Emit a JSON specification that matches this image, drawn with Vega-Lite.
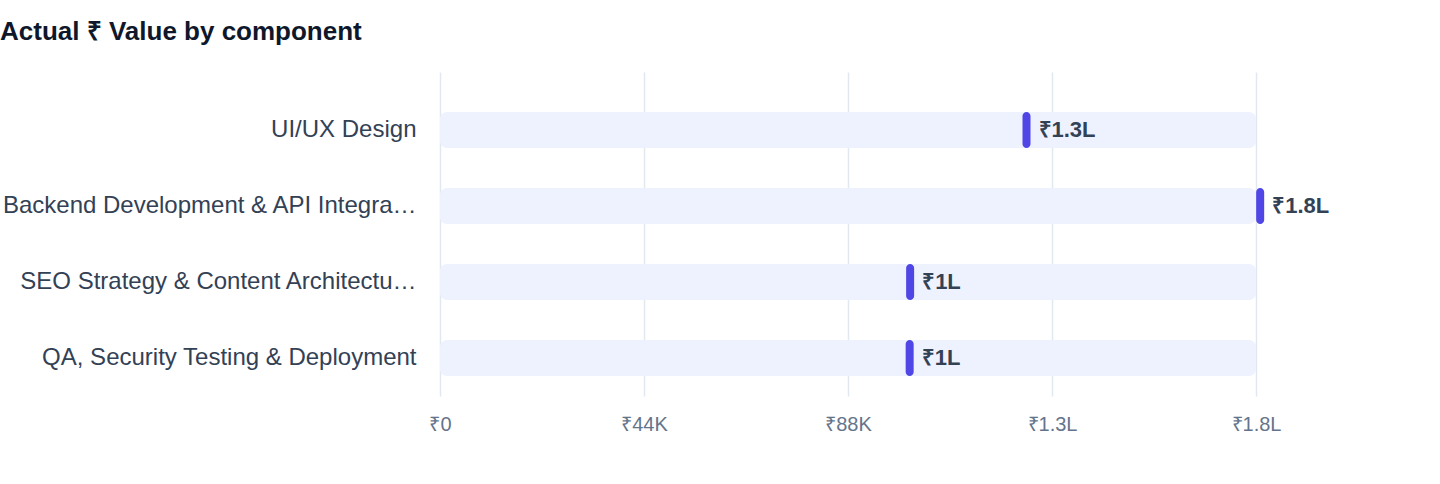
{
  "$schema": "https://vega.github.io/schema/vega-lite/v6.json",
  "width": 816,
  "height": 324,
  "autosize": {"type": "none"},
  "padding": {"left": 440, "top": 72, "right": 184, "bottom": 88},
  "title": {
    "text": "Actual ₹ Value by component",
    "anchor": "start",
    "frame": "group",
    "dx": -440,
    "offset": 27,
    "fontSize": 26,
    "fontWeight": "bold",
    "color": "#0F172A",
    "font": "Liberation Sans"
  },
  "data": {
    "values": [
      {"component": "UI/UX Design", "value": 126500, "label": "₹1.3L"},
      {"component": "Backend Development & API Integration", "value": 176900, "label": "₹1.8L"},
      {"component": "SEO Strategy & Content Architecture", "value": 101400, "label": "₹1L"},
      {"component": "QA, Security Testing & Deployment", "value": 101300, "label": "₹1L"}
    ]
  },
  "encoding": {
    "y": {
      "field": "component",
      "type": "nominal",
      "sort": null,
      "title": null,
      "scale": {"paddingInner": 0, "paddingOuter": 0.1316, "align": 1},
      "axis": {
        "domain": false,
        "ticks": false,
        "grid": false,
        "labelPadding": 24,
        "labelFontSize": 24,
        "labelColor": "#334155",
        "labelLimit": 430,
        "labelExpr": "length(datum.label) > 33 ? substring(datum.label, 0, 33) + '…' : datum.label",
        "labelFont": "Liberation Sans"
      }
    }
  },
  "layer": [
    {
      "mark": {"type": "bar", "height": 36, "cornerRadius": 7, "color": "#EEF2FF"},
      "encoding": {
        "x": {
          "datum": 0,
          "type": "quantitative",
          "scale": {"domain": [0, 176000], "nice": false, "zero": true},
          "axis": {
            "title": null,
            "values": [0, 44000, 88000, 132000, 176000],
            "labelExpr": "datum.value >= 100000 ? '₹' + format(datum.value / 100000, '.1f') + 'L' : datum.value >= 1000 ? '₹' + format(datum.value / 1000, 'd') + 'K' : '₹' + datum.value",
            "domain": false,
            "ticks": false,
            "grid": true,
            "gridColor": "#E2E8F0",
            "gridWidth": 1.5,
            "labelFlush": false,
            "labelPadding": 18,
            "labelFontSize": 20,
            "labelColor": "#64748B",
            "labelFont": "Liberation Sans"
          }
        },
        "x2": {"datum": 176000}
      }
    },
    {
      "mark": {"type": "tick", "thickness": 8, "size": 36, "cornerRadius": 4, "color": "#4F46E5", "opacity": 1},
      "encoding": {
        "x": {"field": "value", "type": "quantitative"}
      }
    },
    {
      "mark": {
        "type": "text",
        "align": "left",
        "baseline": "middle",
        "dx": 12,
        "fontSize": 22,
        "fontWeight": "bold",
        "color": "#334155",
        "font": "Liberation Sans"
      },
      "encoding": {
        "x": {"field": "value", "type": "quantitative"},
        "text": {"field": "label", "type": "nominal"}
      }
    }
  ],
  "config": {
    "view": {"stroke": null},
    "background": "#ffffff"
  }
}
